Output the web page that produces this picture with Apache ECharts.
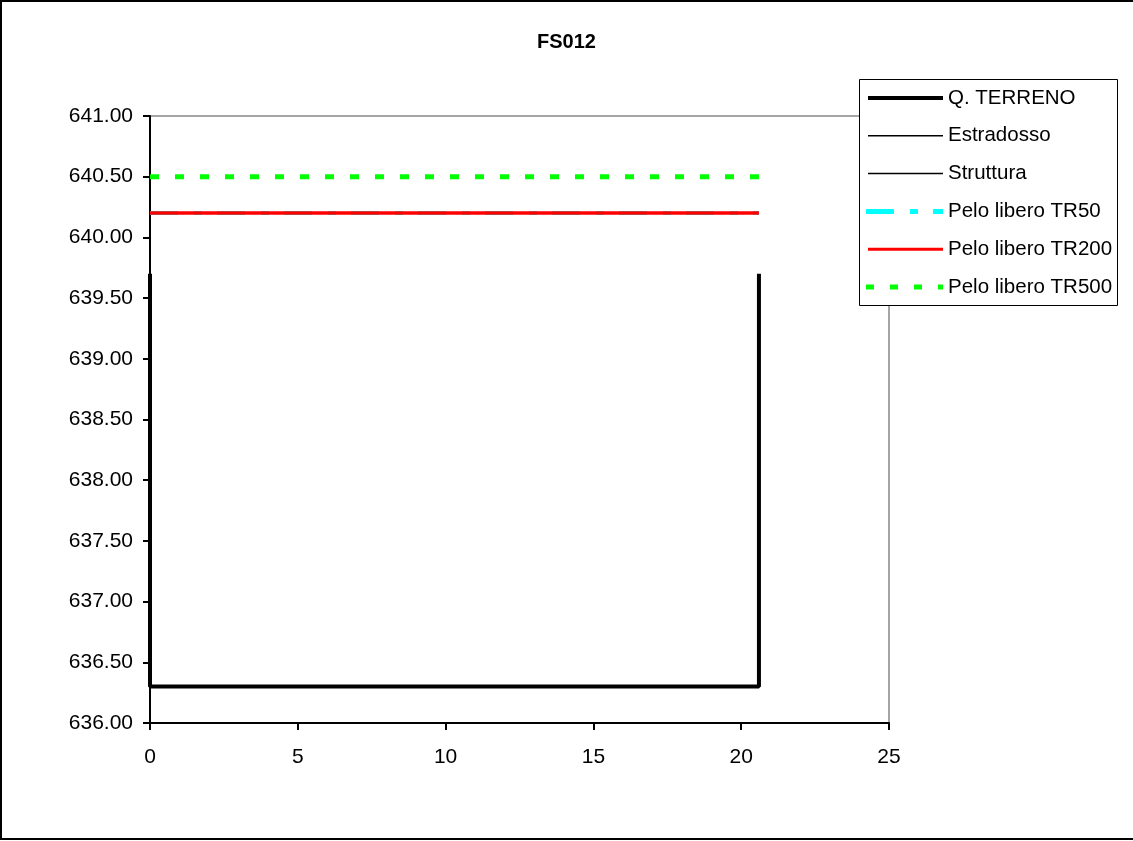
<!DOCTYPE html>
<html><head><meta charset="utf-8">
<script src="https://cdn.jsdelivr.net/npm/echarts@6/dist/echarts.min.js"></script>
<style>html,body{margin:0;padding:0;background:#fff}#c{width:1133px;height:841px}</style>
</head><body><div id="c"></div>
<script>
const title = "FS012";
const seriesNames = ["Q. TERRENO","Estradosso","Struttura","Pelo libero TR50","Pelo libero TR200","Pelo libero TR500"];
const terrainX = [0, 0, 20.6, 20.6];
const terrainY = [639.7, 636.3, 636.3, 639.7];
const waterX = [0, 20.6];
const tr50 = [640.2, 640.2];
const tr200 = [640.2, 640.2];
const tr500 = [640.5, 640.5];
const yMin = 636, yMax = 641, yStep = 0.5;
const xMin = 0, xMax = 25, xStep = 5;

const pair = (xs, ys) => xs.map((x, i) => [x, ys[i]]);
const font = "Liberation Sans, Arial, sans-serif";

// legend styles (order matches seriesNames)
const legendStyles = [
  { stroke: '#000', lineWidth: 4 },
  { stroke: '#000', lineWidth: 1.5 },
  { stroke: '#000', lineWidth: 1.5 },
  { stroke: '#00ffff', lineWidth: 5, lineDash: [28, 16, 8, 15], x1: 866 },
  { stroke: '#ff0000', lineWidth: 3 },
  { stroke: '#00ff00', lineWidth: 5, lineDash: [8, 16], x1: 866 }
];
const legendGraphics = [
  { type: 'rect', shape: { x: 859.5, y: 79.5, width: 258, height: 226 }, style: { fill: '#fff', stroke: '#000', lineWidth: 1 }, z: 100, silent: true }
];
seriesNames.forEach((name, i) => {
  const y = 98 + i * 37.8;
  const s = legendStyles[i];
  legendGraphics.push({
    type: 'line', z: 101, silent: true,
    shape: { x1: s.x1 || 868, y1: y, x2: 943, y2: y },
    style: { stroke: s.stroke, lineWidth: s.lineWidth, lineDash: s.lineDash || null }
  });
  legendGraphics.push({
    type: 'text', z: 101, silent: true, x: 948, y: y,
    style: { text: name, fontFamily: font, fontSize: 20.5, fill: '#000', textVerticalAlign: 'middle', verticalAlign: 'middle' }
  });
});

const chart = echarts.init(document.getElementById('c'));
chart.setOption({
  animation: false,
  backgroundColor: '#fff',
  title: { text: title, left: 'center', top: 27, textStyle: { fontFamily: font, fontSize: 20, fontWeight: 'bold', color: '#000' } },
  grid: { left: 150, right: 244, top: 116, bottom: 118, show: true, borderColor: '#888', borderWidth: 1.5 },
  xAxis: {
    type: 'value', min: xMin, max: xMax, interval: xStep,
    axisLine: { show: true, lineStyle: { color: '#000', width: 2 } },
    axisTick: { show: true, length: 7, lineStyle: { color: '#000', width: 2 } },
    axisLabel: { fontFamily: font, fontSize: 21, color: '#000', margin: 24 },
    splitLine: { show: false }
  },
  yAxis: {
    type: 'value', min: yMin, max: yMax, interval: yStep,
    axisLine: { show: true, lineStyle: { color: '#000', width: 2 } },
    axisTick: { show: true, length: 7, lineStyle: { color: '#000', width: 2 } },
    axisLabel: { fontFamily: font, fontSize: 21, color: '#000', margin: 17, formatter: v => v.toFixed(2) },
    splitLine: { show: false }
  },
  series: [
    { name: seriesNames[0], type: 'line', data: pair(terrainX, terrainY), symbol: 'none', lineStyle: { color: '#000', width: 4 }, z: 5 },
    { name: seriesNames[1], type: 'line', data: [], symbol: 'none', lineStyle: { color: '#000', width: 1.5 } },
    { name: seriesNames[2], type: 'line', data: [], symbol: 'none', lineStyle: { color: '#000', width: 1.5 } },
    { name: seriesNames[3], type: 'line', data: pair(waterX, tr50), symbol: 'none', lineStyle: { color: '#00ffff', width: 4, type: [28, 16, 8, 15] } },
    { name: seriesNames[4], type: 'line', data: pair(waterX, tr200), symbol: 'none', lineStyle: { color: '#ff0000', width: 3.5 } },
    { name: seriesNames[5], type: 'line', data: pair(waterX, tr500), symbol: 'none', lineStyle: { color: '#00ff00', width: 5, type: [9, 16] } }
  ],
  graphic: [
    { type: 'rect', shape: { x: 1, y: 1, width: 1145, height: 838 }, style: { fill: 'none', stroke: '#000', lineWidth: 2 }, silent: true, z: 200 }
  ].concat(legendGraphics)
});
</script></body></html>
